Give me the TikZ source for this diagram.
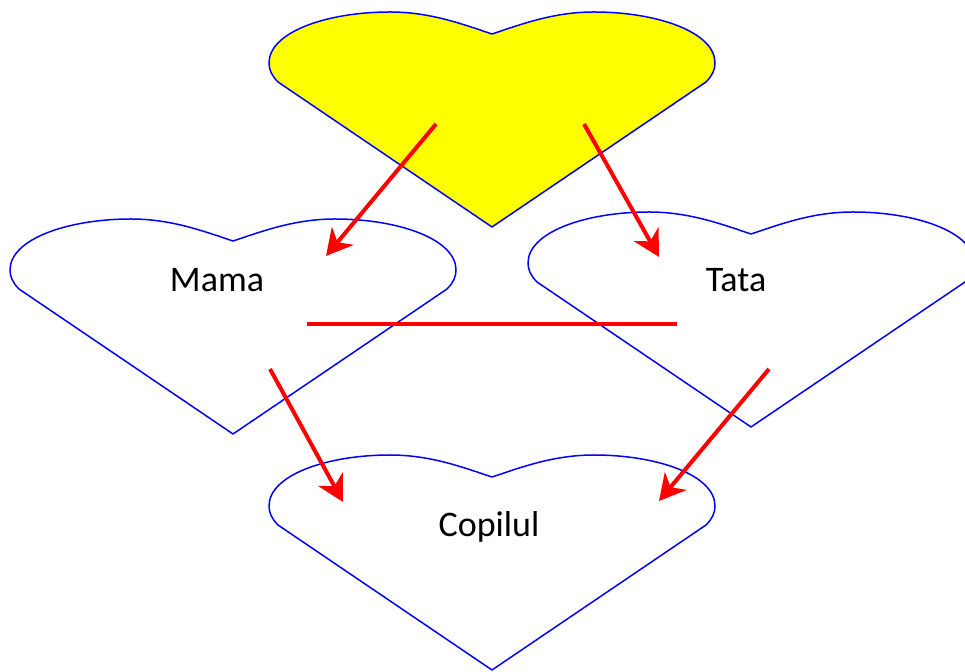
\documentclass[tikz,border=0pt]{standalone}
\usepackage{fontspec}
\setmainfont{Carlito}
\usetikzlibrary{arrows.meta}
\definecolor{galben}{RGB}{255,255,0}
\definecolor{albastru}{RGB}{0,0,255}
\definecolor{rosu}{RGB}{255,0,0}
\newcommand{\inima}[2]{\draw[inima,#2,shift={(#1)}] (0,0) -- (-214,145)
  .. controls (-220,151) and (-223,157) .. (-223,164)
  .. controls (-223,195) and (-165,215) .. (-102,215)
  .. controls (-62,215) and (-30,203) .. (0,193)
  .. controls (30,203) and (62,215) .. (102,215)
  .. controls (165,215) and (223,195) .. (223,164)
  .. controls (223,157) and (220,151) .. (214,145) -- cycle;}

\begin{document}
\begin{tikzpicture}[x=1pt,y=1pt,
  inima/.style={albastru,line width=1.5pt,line join=round},
  sageata/.style={rosu,line width=4pt,-{Stealth[length=26pt,width=28pt,inset=8pt]}},
  eticheta/.style={font=\fontsize{36}{42}\selectfont,anchor=base}]
  \useasboundingbox (0,0) rectangle (965,671);
  \clip (0,0) rectangle (965,671);

  \coordinate (Ts) at (492,444);
  \coordinate (Tm) at (233,237);
  \coordinate (Tt) at (751,244);
  \coordinate (Tc) at (492,1);

  \coordinate (S1) at (436,547);
  \coordinate (E1) at (326,415);
  \coordinate (S2) at (584,547);
  \coordinate (E2) at (659,414);
  \coordinate (S3) at (270,302);
  \coordinate (E3) at (343,169);
  \coordinate (S4) at (769,302);
  \coordinate (E4) at (659,170);
  \coordinate (L1) at (307,347);
  \coordinate (L2) at (677,347);

  \inima{Ts}{fill=galben}
  \inima{Tm}{}
  \inima{Tt}{}
  \inima{Tc}{}

  \node[eticheta] (mama)  at (217,379) {Mama};
  \node[eticheta] (tata)  at (736,379) {Tata};
  \node[eticheta] (copil) at (489,134) {Copilul};

  \draw[sageata] (S1) -- (E1);
  \draw[sageata] (S2) -- (E2);
  \draw[sageata] (S3) -- (E3);
  \draw[sageata] (S4) -- (E4);
  \draw[rosu,line width=4pt] (L1) -- (L2);
\end{tikzpicture}
\end{document}
